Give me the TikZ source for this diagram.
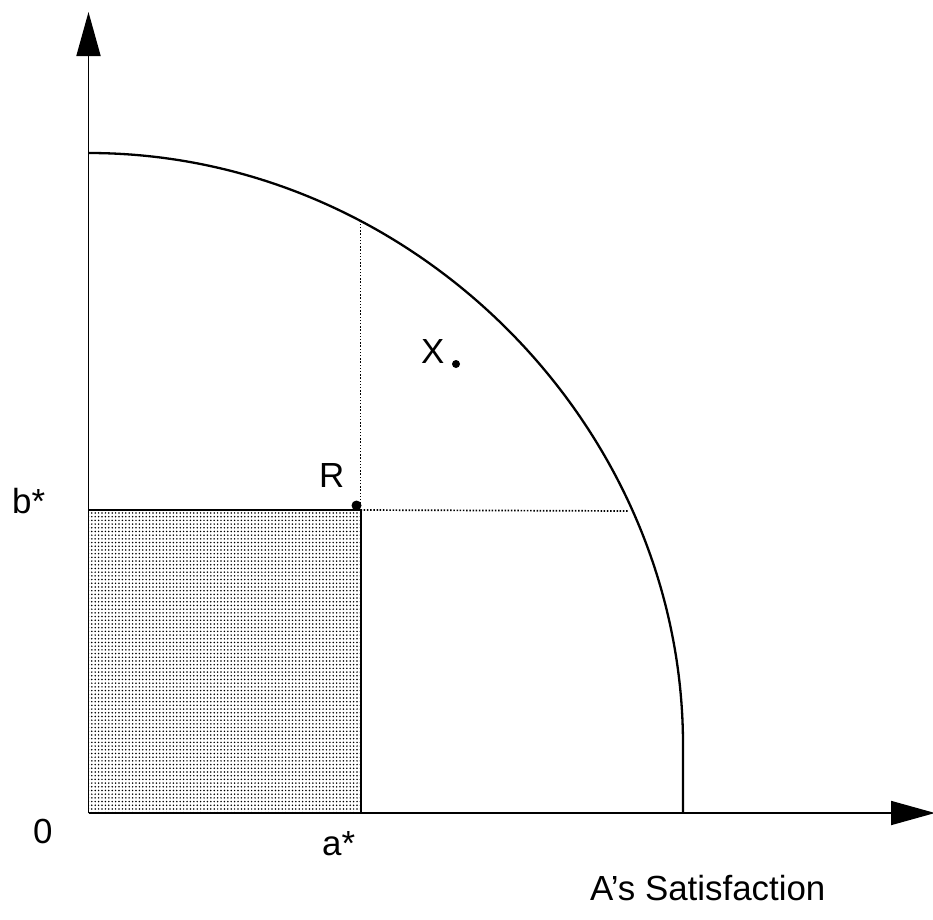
\documentclass[tikz,border=0pt]{standalone}
\usepackage{fontspec}
\setmainfont{Liberation Sans}
\usetikzlibrary{arrows.meta,patterns}
\pgfdeclarepatternformonly{sdots}{\pgfqpoint{-1bp}{-1bp}}{\pgfqpoint{1bp}{1bp}}{\pgfqpoint{3.4bp}{3.7bp}}{%
  \pgfpathcircle{\pgfqpoint{0pt}{0pt}}{0.85bp}\pgfusepath{fill}}
\begin{document}
\begin{tikzpicture}[x=1bp,y=-1bp,
  axisline/.style={line width=1.8bp,-{Triangle[length=44bp,width=24bp]}},
  frontier/.style={line width=2.3bp},
  guide/.style={line width=1.7bp,dash pattern=on 1.5bp off 1.7bp},
  edge/.style={line width=2bp},
  lbl/.style={inner sep=0pt,anchor=base west,font=\fontsize{35}{40}\selectfont},
  pt/.style={circle,fill=black,inner sep=0pt,minimum size=#1}]
\useasboundingbox (0,0) rectangle (933,920);
% key points
\coordinate (O) at (88.5,813);
\coordinate (Ytop) at (88.5,12);
\coordinate (Xend) at (935,813);
\coordinate (Btop) at (88.5,153);
\coordinate (Aright) at (683,745);
\coordinate (Abot) at (683,813);
\coordinate (Rc) at (360.5,510);
\coordinate (Ac) at (360.5,813);
\coordinate (Bc) at (88.5,510);
\coordinate (Fv) at (360.5,222);
\coordinate (Fh) at (628,511);
% shaded region
\fill[pattern=sdots] (Bc) rectangle (Ac);
\draw[edge] (Bc) -- (Rc) -- (Ac);
% guides
\draw[guide] (Rc) -- (Fv);
\draw[guide] (Rc) -- (Fh);
% frontier
\draw[frontier] (Btop) .. controls (412,153) and (683,425) .. (Aright) -- (Abot);
% axes
\draw[axisline] (O) -- (Ytop);
\draw[axisline] (O) -- (Xend);
% points
\node[pt=10bp] (R) at (356.5,505.5) {};
\node[pt=8bp] (X) at (456,364) {};
% labels
\node[lbl] (lb) at (12,513) {b*};
\node[lbl] (l0) at (33,843) {0};
\node[lbl] (la) at (322,855) {a*};
\node[lbl] (lR) at (319,487) {R};
\node[lbl] (lX) at (421,363) {X};
\node[lbl] (lA) at (590,900) {A’s Satisfaction};
\end{tikzpicture}
\end{document}
